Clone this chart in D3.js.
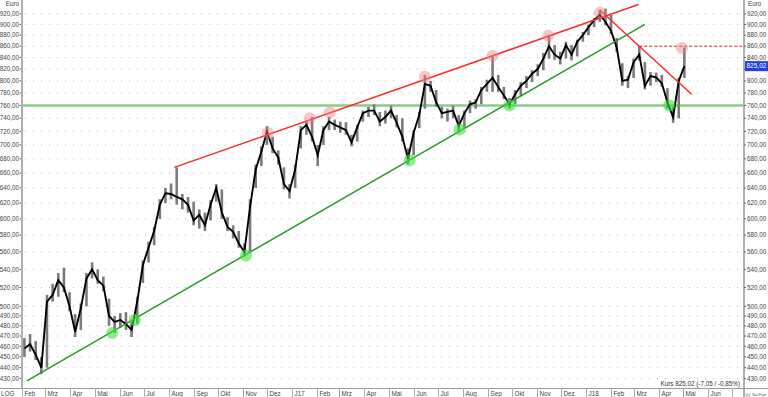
<!DOCTYPE html>
<html>
<head>
<meta charset="utf-8">
<script src="https://cdn.jsdelivr.net/npm/d3@7.9.0/dist/d3.min.js"></script>
<style>
  body { margin: 0; background: #fff; }
  svg { display: block; font-family: "Liberation Sans", Arial, sans-serif; }
</style>
</head>
<body>
<svg id="chart" width="768" height="397"></svg>
<script>
// weekly candles, first week starts 2016-02-01
const firstWeek = '2016-02-01';
const closes = [458,462,452,440,505,512,528,520,500,474,498,530,540,528,522,490,484,486,482,476,
  505,545,565,585,618,633,632,628,625,618,598,605,592,618,640,608,590,584,570,560,
  615,665,690,720,695,682,645,636,665,722,730,712,685,722,735,730,726,722,704,726,
  748,752,752,735,742,752,733,712,680,718,745,795,792,765,748,750,752,728,748,762,
  765,785,795,805,790,776,762,778,792,800,812,820,838,860,845,838,862,845,868,880,
  895,908,918,905,888,858,800,802,832,845,792,808,806,796,765,742,800,825];
const highs = [468,472,465,450,512,524,536,542,515,492,503,536,548,540,532,508,490,493,494,484,
  510,550,572,590,625,640,646,668,632,628,622,612,608,624,645,638,602,592,585,570,
  625,672,698,728,712,692,668,645,672,728,735,742,700,728,742,738,735,734,715,730,
  752,758,762,750,752,760,745,740,695,722,750,810,800,785,758,755,760,745,752,768,
  770,790,802,842,810,790,772,785,798,808,818,828,848,880,862,850,868,862,872,886,
  900,912,928,930,918,875,830,808,838,860,832,815,814,810,788,758,805,858];
const lows = [450,455,447,434,440,505,510,515,495,469,476,500,530,524,516,480,473,478,476,469,
  482,525,548,568,600,620,625,618,612,608,592,588,585,598,622,600,585,576,565,555,
  560,640,670,700,688,672,638,626,640,695,715,705,670,700,722,722,718,715,698,705,
  735,742,745,728,732,740,726,705,672,685,725,755,782,758,740,735,740,718,725,748,
  755,762,782,782,782,770,755,762,775,788,798,808,818,838,836,828,838,835,842,868,
  880,895,905,898,882,850,792,788,805,835,786,792,798,790,755,733,740,805];

const lastPrice = '825,02';
const kursText = 'Kurs 825,02 (-7,05 / -0,85%)';

const yTicks = [430,440,450,460,470,480,490,500,520,540,560,580,600,620,640,660,680,700,
  720,740,760,780,800,820,840,860,880,900,920];
const monthLabels = ['Feb','Mrz','Apr','Mai','Jun','Jul','Aug','Sep','Okt','Nov','Dez','J17',
  'Feb','Mrz','Apr','Mai','Jun','Jul','Aug','Sep','Okt','Nov','Dez','J18',
  'Feb','Mrz','Apr','Mai','Jun'];

// trend lines: [date, value] pairs
const upperTrend = [['2016-08-08', 668], ['2018-03-07', 938]];
const lowerTrend = [['2016-02-07', 428], ['2018-03-15', 900]];
const downTrend = [['2018-01-19', 926], ['2018-05-12', 778]];
const supportLevel = 760;
const resistLevel = 860;
const resistFrom = '2018-03-08';

const redMarks = [['2016-12-02', 718], ['2017-01-23', 740], ['2017-02-17', 749], ['2017-06-15', 807],
  ['2017-09-07', 843], ['2017-11-15', 879], ['2018-01-18', 922], ['2018-04-30', 857]];
const greenMarks = [['2016-05-23', 473], ['2016-06-20', 486], ['2016-11-05', 556], ['2017-05-27', 678],
  ['2017-07-28', 723], ['2017-09-28', 760], ['2018-04-14', 760]];

const parse = d3.utcParse('%Y-%m-%d');
const fmt = (v) => d3.format('.2f')(v).replace('.', ',');

const svg = d3.select('#chart');
const plotLeft = 22, plotRight = 744, plotTop = 0, plotBottom = 388;

let x = d3.scaleUtc().domain([parse('2016-02-01'), parse('2018-07-16')]).range([plotLeft, plotRight]);
let y = d3.scaleLog().domain([421.7, 947]).range([plotBottom, plotTop]);
let lp = +lastPrice.replace(',', '.');

svg.append('defs').append('clipPath').attr('id', 'plot')
  .append('rect').attr('x', plotLeft).attr('y', plotTop)
  .attr('width', plotRight - plotLeft).attr('height', plotBottom - plotTop);

// dotted grid
svg.append('g').selectAll('line').data(yTicks).join('line')
  .attr('x1', plotLeft + 3).attr('x2', plotRight)
  .attr('y1', (d) => y(d)).attr('y2', (d) => y(d))
  .attr('stroke', '#b8b8b8').attr('stroke-width', 1).attr('stroke-dasharray', '1,7');

// axes
svg.append('line').attr('x1', plotLeft).attr('x2', plotLeft).attr('y1', 0).attr('y2', plotBottom)
  .attr('stroke', '#b0b0b0').attr('stroke-width', 2);
svg.append('line').attr('x1', plotRight).attr('x2', plotRight).attr('y1', 0).attr('y2', 397)
  .attr('stroke', '#b0b0b0').attr('stroke-width', 2);
svg.append('line').attr('x1', 0).attr('x2', 768).attr('y1', plotBottom + 0.5).attr('y2', plotBottom + 0.5)
  .attr('stroke', '#999');

let axisG = svg.append('g');
yTicks.forEach((t) => {
  axisG.append('text').attr('x', 19).attr('y', y(t) + 2.2).attr('text-anchor', 'end')
    .attr('font-size', 6.3).attr('fill', '#444').text(fmt(t));
  axisG.append('line').attr('x1', 19.5).attr('x2', 21).attr('y1', y(t)).attr('y2', y(t)).attr('stroke', '#666');
  axisG.append('line').attr('x1', 744).attr('x2', 746).attr('y1', y(t)).attr('y2', y(t)).attr('stroke', '#666');
  // right label hidden where the last-price box sits on top of it
  if (Math.abs(y(t) - y(lp)) > 7) {
    axisG.append('text').attr('x', 747).attr('y', y(t) + 2.2)
      .attr('font-size', 6.3).attr('fill', '#444').text(fmt(t));
  }
});
svg.append('text').attr('x', 19).attr('y', 6).attr('text-anchor', 'end').attr('font-size', 6.3).attr('fill', '#444').text('Euro');
svg.append('text').attr('x', 748).attr('y', 6).attr('font-size', 6.3).attr('fill', '#444').text('Euro');

// month axis
let months = d3.utcMonth.range(parse('2016-02-01'), parse('2018-07-02'));
let mAxis = svg.append('g');
months.forEach((m, i) => {
  let mx = Math.round(x(m)) + 0.5;
  mAxis.append('line').attr('x1', mx).attr('x2', mx).attr('y1', plotBottom).attr('y2', 397).attr('stroke', '#aaa');
  if (monthLabels[i]) {
    mAxis.append('text').attr('x', mx + 2).attr('y', 395.5).attr('font-size', 6.3).attr('fill', '#444').text(monthLabels[i]);
  }
});
svg.append('text').attr('x', 1).attr('y', 395.5).attr('font-size', 6.3).attr('fill', '#444').text('LOG');
svg.append('text').attr('x', 745.5).attr('y', 395.5).attr('font-size', 4.3).attr('fill', '#444').text('(c) Tai-Pan');
svg.append('text').attr('x', 740).attr('y', 386).attr('text-anchor', 'end').attr('font-size', 6.3).attr('fill', '#333').text(kursText);

const plot = svg.append('g').attr('clip-path', 'url(#plot)');

// support line
plot.append('line').attr('x1', plotLeft).attr('x2', plotRight)
  .attr('y1', y(supportLevel)).attr('y2', y(supportLevel))
  .attr('stroke', '#8cc98c').attr('stroke-width', 2.5);

// candles
const weekDate = (i) => d3.utcDay.offset(parse(firstWeek), 7 * i + 3);
plot.append('g').selectAll('line').data(closes).join('line')
  .attr('x1', (d, i) => x(weekDate(i))).attr('x2', (d, i) => x(weekDate(i)))
  .attr('y1', (d, i) => y(highs[i])).attr('y2', (d, i) => y(lows[i]))
  .attr('stroke', '#7a7a7a').attr('stroke-width', 2.6);
plot.append('path').datum(closes)
  .attr('d', d3.line().x((d, i) => x(weekDate(i))).y((d) => y(d)))
  .attr('fill', 'none').attr('stroke', '#000').attr('stroke-width', 1.9);

// trend lines
const trend = d3.line().x((d) => x(parse(d[0]))).y((d) => y(d[1]));
plot.append('path').attr('d', trend(upperTrend)).attr('stroke', '#ff2b2b').attr('stroke-width', 1.5).attr('fill', 'none');
plot.append('path').attr('d', trend(lowerTrend)).attr('stroke', '#2a9a2a').attr('stroke-width', 1.5).attr('fill', 'none');
plot.append('path').attr('d', trend(downTrend)).attr('stroke', '#ff2b2b').attr('stroke-width', 1.5).attr('fill', 'none');
plot.append('line').attr('x1', x(parse(resistFrom))).attr('x2', plotRight)
  .attr('y1', y(resistLevel)).attr('y2', y(resistLevel))
  .attr('stroke', '#e02020').attr('stroke-width', 1).attr('stroke-dasharray', '3,2');

// touch markers
plot.append('g').selectAll('circle').data(redMarks).join('circle')
  .attr('cx', (d) => x(parse(d[0]))).attr('cy', (d) => y(d[1])).attr('r', 6)
  .attr('fill', '#f08080').attr('fill-opacity', 0.45);
plot.append('g').selectAll('circle').data(greenMarks).join('circle')
  .attr('cx', (d) => x(parse(d[0]))).attr('cy', (d) => y(d[1])).attr('r', 6)
  .attr('fill', '#3ee03e').attr('fill-opacity', 0.6);

// last price box
svg.append('rect').attr('x', 745).attr('y', y(lp) - 5).attr('width', 23).attr('height', 10).attr('fill', '#1f3fe0');
svg.append('text').attr('x', 746.5).attr('y', y(lp) + 2.3).attr('font-size', 6.5).attr('fill', '#fff').text(lastPrice);
</script>
</body>
</html>
